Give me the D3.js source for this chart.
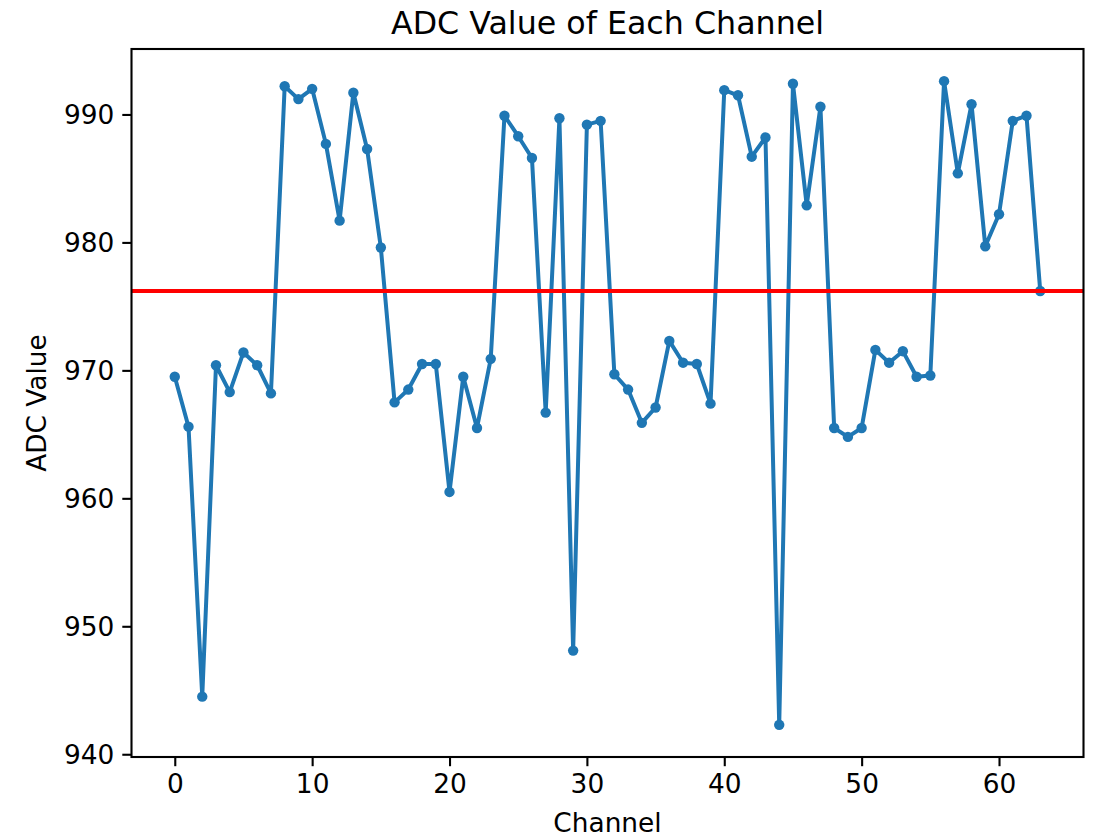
<!DOCTYPE html>
<html>
<head>
<meta charset="utf-8">
<script src="https://cdn.jsdelivr.net/npm/d3@7"></script>
<style>
  body { margin: 0; background: #fff; }
  svg { display: block; font-family: "DejaVu Sans", sans-serif; }
</style>
</head>
<body>
<svg id="chart" width="1094" height="838"></svg>
<script>
// ADC reading for each of the 64 channels
var channels = d3.range(64);
var adcValues = [
  969.5, 965.6, 944.5, 970.4, 968.3, 971.4, 970.4, 968.2,
  992.2, 991.2, 992.0, 987.7, 981.7, 991.7, 987.3, 979.6,
  967.5, 968.5, 970.5, 970.5, 960.5, 969.5, 965.5, 970.9,
  989.9, 988.3, 986.6, 966.7, 989.7, 948.1, 989.2, 989.5,
  969.7, 968.5, 965.9, 967.1, 972.3, 970.6, 970.5, 967.4,
  991.9, 991.5, 986.7, 988.2, 942.3, 992.4, 982.9, 990.6,
  965.5, 964.8, 965.5, 971.6, 970.6, 971.5, 969.5, 969.6,
  992.6, 985.4, 990.8, 979.7, 982.2, 989.5, 989.9, 976.2
];
var meanValue = 976.2;
var xTicks = [0, 10, 20, 30, 40, 50, 60];
var yTicks = [940, 950, 960, 970, 980, 990];

var svg = d3.select("#chart"),
    plotLeft = 131.5, plotRight = 1083.5, plotTop = 49, plotBottom = 757;

// matplotlib style 5% margins
var xPad = (d3.max(channels) - d3.min(channels)) * 0.05,
    yPad = (d3.max(adcValues) - d3.min(adcValues)) * 0.05;

var x = d3.scaleLinear()
    .domain([d3.min(channels) - xPad, d3.max(channels) + xPad])
    .range([plotLeft, plotRight]);
var y = d3.scaleLinear()
    .domain([d3.min(adcValues) - yPad, d3.max(adcValues) + yPad])
    .range([plotBottom, plotTop]);

svg.append("rect").attr("width", 1094).attr("height", 838).attr("fill", "#fff");

svg.append("defs").append("clipPath").attr("id", "plotclip")
  .append("rect").attr("x", plotLeft).attr("y", plotTop)
  .attr("width", plotRight - plotLeft).attr("height", plotBottom - plotTop);

var plot = svg.append("g").attr("clip-path", "url(#plotclip)");

var line = d3.line()
    .x(function(d, i) { return x(channels[i]); })
    .y(function(d) { return y(d); });

plot.append("path")
    .datum(adcValues)
    .attr("d", line)
    .attr("fill", "none")
    .attr("stroke", "#1f77b4")
    .attr("stroke-width", 4)
    .attr("stroke-linejoin", "round")
    .attr("stroke-linecap", "square");

plot.selectAll("circle.pt")
    .data(adcValues)
    .enter().append("circle")
    .attr("class", "pt")
    .attr("cx", function(d, i) { return x(channels[i]); })
    .attr("cy", function(d) { return y(d); })
    .attr("r", 5.2)
    .attr("fill", "#1f77b4");

// mean line
plot.append("line")
    .attr("x1", plotLeft).attr("x2", plotRight)
    .attr("y1", y(meanValue)).attr("y2", y(meanValue))
    .attr("stroke", "#ff0000")
    .attr("stroke-width", 4);

// axes
var xAxis = d3.axisBottom(x).tickValues(xTicks).tickSize(9.2).tickPadding(8).tickSizeOuter(0);
var yAxis = d3.axisLeft(y).tickValues(yTicks).tickSize(9.2).tickPadding(8).tickSizeOuter(0);

var gx = svg.append("g").attr("transform", "translate(0," + plotBottom + ")").call(xAxis);
var gy = svg.append("g").attr("transform", "translate(" + plotLeft + ",0)").call(yAxis);

[gx, gy].forEach(function(g) {
  g.select(".domain").remove();
  g.selectAll(".tick line").attr("stroke", "#000").attr("stroke-width", 2.1);
  g.selectAll(".tick text").attr("fill", "#000").attr("font-size", "26.4px")
    .attr("font-family", "DejaVu Sans, sans-serif");
});
gx.selectAll(".tick text").attr("dy", "0.71em");
gy.selectAll(".tick text").attr("dy", "0.36em");

svg.append("rect")
    .attr("x", plotLeft).attr("y", plotTop)
    .attr("width", plotRight - plotLeft).attr("height", plotBottom - plotTop)
    .attr("fill", "none").attr("stroke", "#000").attr("stroke-width", 2.1);

// labels
svg.append("text")
    .attr("x", (plotLeft + plotRight) / 2).attr("y", 34)
    .attr("text-anchor", "middle")
    .attr("font-size", "31.7px")
    .text("ADC Value of Each Channel");

svg.append("text")
    .attr("x", (plotLeft + plotRight) / 2).attr("y", 832)
    .attr("text-anchor", "middle")
    .attr("font-size", "26.4px")
    .text("Channel");

svg.append("text")
    .attr("transform", "translate(46," + (plotTop + plotBottom) / 2 + ") rotate(-90)")
    .attr("text-anchor", "middle")
    .attr("font-size", "26.4px")
    .text("ADC Value");
</script>
</body>
</html>
